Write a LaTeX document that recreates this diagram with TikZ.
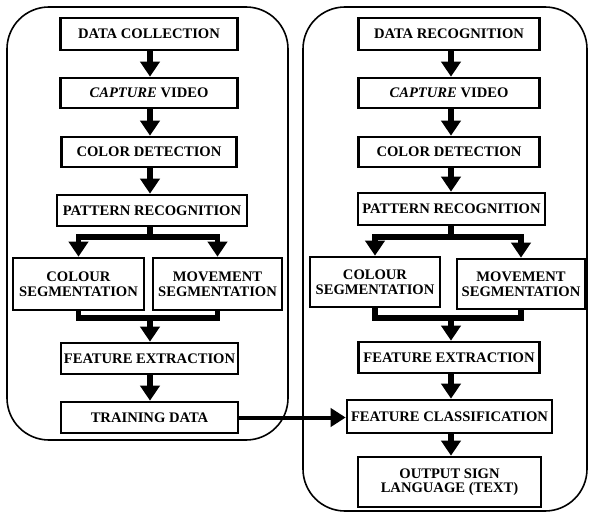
\documentclass[tikz,border=0pt]{standalone}
\usepackage{fontspec}
\setmainfont{Liberation Serif}
\usetikzlibrary{arrows.meta}
\begin{document}
\begin{tikzpicture}[x=1pt,y=-1pt,
  box/.style={draw, line width=2.6pt, inner sep=0pt, align=center,
    font=\bfseries\fontsize{14.6}{14.5}\selectfont},
  flow/.style={line width=5.5pt, line join=miter, -{Triangle[width=19pt,length=15pt]}},
  link/.style={line width=4pt, -{Triangle[width=18pt,length=15pt]}},
  panel/.style={draw, line width=1.6pt, rounded corners=42pt}]
\useasboundingbox (0,0) rectangle (590,514);
% panels
\draw[panel] (7,7) rectangle (288,440);
\draw[panel] (303,7) rectangle (587,511);
% left column
\node[box, minimum width=177pt, minimum height=32pt] (dc) at (149,34) {DATA COLLECTION};
\node[box, minimum width=177pt, minimum height=30pt] (cv) at (149,93) {\textit{CAPTURE} VIDEO};
\node[box, minimum width=175pt, minimum height=30pt] (cd) at (149,152) {COLOR DETECTION};
\node[box, minimum width=190pt, minimum height=31pt] (pr) at (152,210.5) {PATTERN RECOGNITION};
\node[box, minimum width=131pt, minimum height=52pt] (cs) at (78.5,284) {COLOUR\\SEGMENTATION};
\node[box, minimum width=129pt, minimum height=52pt] (ms) at (217.5,284) {MOVEMENT\\SEGMENTATION};
\node[box, minimum width=177pt, minimum height=31pt] (fe) at (149.5,358.5) {FEATURE EXTRACTION};
\node[box, minimum width=177pt, minimum height=31pt] (td) at (149.5,417.5) {TRAINING DATA};
\coordinate (lb) at (150,237);
\coordinate (lm) at (150,318);
% right column
\node[box, minimum width=181pt, minimum height=32pt] (dr) at (449,34) {DATA RECOGNITION};
\node[box, minimum width=181pt, minimum height=30pt] (cv2) at (449,93) {\textit{CAPTURE} VIDEO};
\node[box, minimum width=181pt, minimum height=30pt] (cd2) at (449,152) {COLOR DETECTION};
\node[box, minimum width=187pt, minimum height=32pt] (pr2) at (451.5,209) {PATTERN RECOGNITION};
\node[box, minimum width=130pt, minimum height=50pt] (cs2) at (375,282) {COLOUR\\SEGMENTATION};
\node[box, minimum width=128pt, minimum height=50pt] (ms2) at (521,284) {MOVEMENT\\SEGMENTATION};
\node[box, minimum width=181pt, minimum height=31pt] (fe2) at (449,357.5) {FEATURE EXTRACTION};
\node[box, minimum width=205pt, minimum height=33pt] (fc) at (449.5,416.5) {FEATURE CLASSIFICATION};
\node[box, minimum width=183pt, minimum height=50pt] (out) at (449.5,482) {OUTPUT SIGN\\LANGUAGE (TEXT)};
\coordinate (rb) at (451,237);
\coordinate (rm) at (451,318);
% left connectors
\draw[flow] (dc.south -| lb) -- (cv.north -| lb);
\draw[flow] (cv.south -| lb) -- (cd.north -| lb);
\draw[flow] (cd.south -| lb) -- (pr.north -| lb);
\draw[flow] (pr.south -| lb) -- (lb) -| (cs.north);
\draw[flow] (lb) -| (ms.north);
\draw[line width=5.5pt, line join=miter] (cs.south) |- (lm) -| (ms.south);
\draw[flow] (lm) -- (fe.north -| lm);
\draw[flow] (fe.south -| lm) -- (td.north -| lm);
% right connectors
\draw[flow] (dr.south -| rb) -- (cv2.north -| rb);
\draw[flow] (cv2.south -| rb) -- (cd2.north -| rb);
\draw[flow] (cd2.south -| rb) -- (pr2.north -| rb);
\draw[flow] (pr2.south -| rb) -- (rb) -| (cs2.north);
\draw[flow] (rb) -| (ms2.north);
\draw[line width=5.5pt, line join=miter] (cs2.south) |- (rm) -| (ms2.south);
\draw[flow] (rm) -- (fe2.north -| rm);
\draw[flow] (fe2.south -| rm) -- (fc.north -| rm);
\draw[flow] (fc.south -| rm) -- (out.north -| rm);
% link
\draw[link] (td.east) -- (td.east -| fc.west);
\end{tikzpicture}
\end{document}
